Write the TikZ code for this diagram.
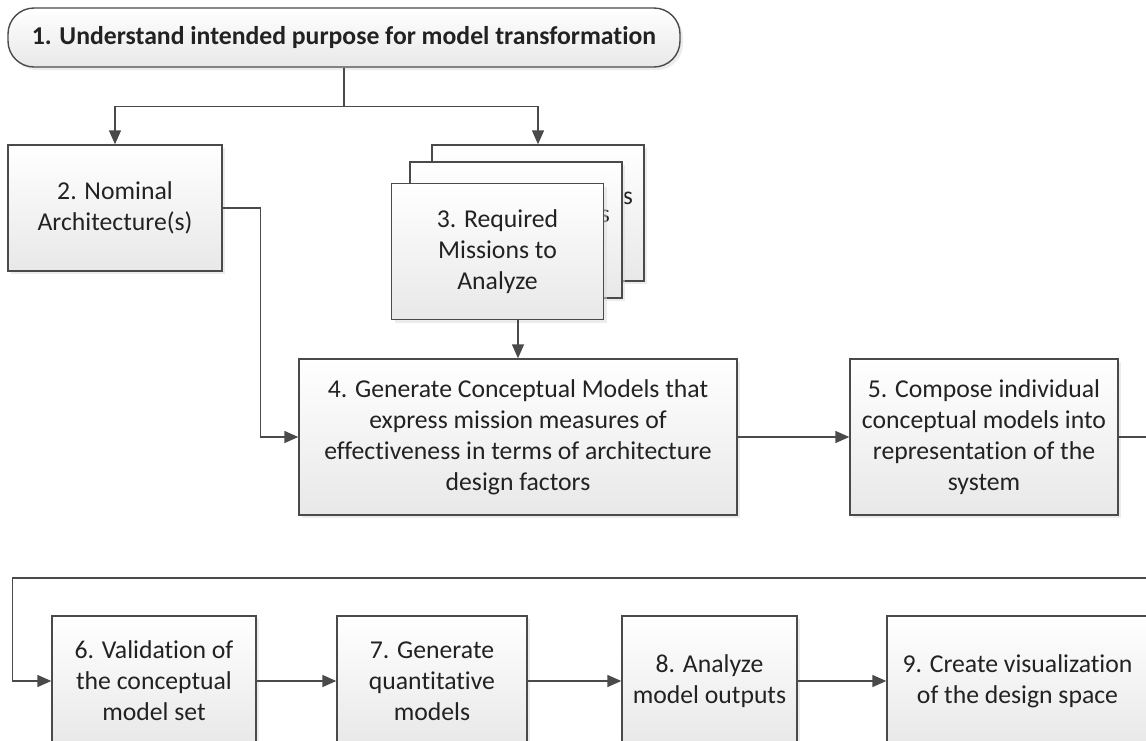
\documentclass[tikz,border=0pt]{standalone}
\usepackage{fontspec}
\setmainfont{Carlito}[Ligatures=NoCommon]
\usetikzlibrary{arrows.meta,shadows}
\definecolor{edge}{HTML}{4A4A4A}
\definecolor{ink}{HTML}{222222}
\begin{document}
\begin{tikzpicture}[x=1pt,y=-1pt,
  boxfont/.style={font=\fontsize{25.7}{31}\selectfont},
  stepbox/.style={draw=edge, line width=1.4pt, top color=white, bottom color=black!9,
    drop shadow={shadow xshift=3pt,shadow yshift=-3pt,fill=black!14},
    inner sep=0pt, align=center, text=ink, boxfont},
  flow/.style={draw=edge, line width=1.4pt, -{Triangle[length=14pt,width=12pt]}},
]
\useasboundingbox (0,0) rectangle (1146,740);
\clip (0,0) rectangle (1146,740);
\fill[white] (0,0) rectangle (1146,740);

% top of the process
\node[stepbox, rounded corners=26pt, minimum width=672pt, minimum height=59pt,
      font=\fontsize{25.7}{31}\selectfont\bfseries] (b1) at (344,37.5)
  {1. Understand intended purpose for model transformation};

\node[stepbox, minimum width=214pt, minimum height=126pt] (b2) at (115,208)
  {2. Nominal\\Architecture(s)};

% stack of mission sheets
\node[stepbox, minimum width=212pt, minimum height=136pt] (m3b) at (538,213) {};
\node[boxfont, text=ink, inner sep=0pt] (sb) at (628,198) {s};
\node[stepbox, minimum width=212pt, minimum height=136pt] (m3m) at (516,230) {};
\node[boxfont, text=ink, inner sep=0pt] (sm) at (605,216) {s};
\node[stepbox, minimum width=212pt, minimum height=136pt] (m3) at (497.5,251.5)
  {3. Required\\Missions to\\Analyze};

\node[stepbox, minimum width=438pt, minimum height=156pt] (b4) at (518,437)
  {4. Generate Conceptual Models that\\express mission measures of\\effectiveness in terms of architecture\\design factors};

\node[stepbox, minimum width=268pt, minimum height=156pt] (b5) at (984,437)
  {5. Compose individual\\conceptual models into\\representation of the\\system};

% second row
\node[stepbox, minimum width=204pt, minimum height=130pt] (b6) at (154,681)
  {6. Validation of\\the conceptual\\model set};
\node[stepbox, minimum width=190pt, minimum height=130pt] (b7) at (432,681)
  {7. Generate\\quantitative\\models};
\node[stepbox, minimum width=175pt, minimum height=130pt] (b8) at (709.5,681)
  {8. Analyze\\model outputs};
\node[stepbox, minimum width=261pt, minimum height=130pt] (b9) at (1017.5,681)
  {9. Create visualization\\of the design space};

% connectors
\draw[flow] (b1.south) -- ++(0,39) -| (b2.north);
\draw[flow] (b1.south) -- ++(0,39) -| (m3b.north);
\draw[flow] (b2.east) -- ++(38,0) |- (b4.west);
\draw[flow] (m3.south -| b4.north) -- (b4.north);
\draw[flow] (b4.east) -- (b5.west);
\coordinate (wrap) at (12.5,578);
\draw[flow] (b5.east) -- ++(45,0) |- (wrap) |- (b6.west);
\draw[flow] (b6.east) -- (b7.west);
\draw[flow] (b7.east) -- (b8.west);
\draw[flow] (b8.east) -- (b9.west);
\end{tikzpicture}
\end{document}
